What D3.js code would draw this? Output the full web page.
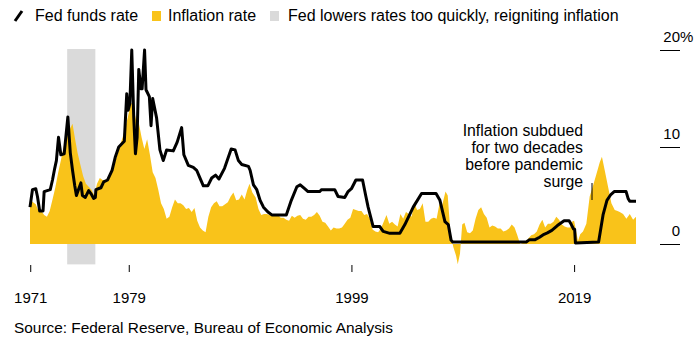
<!DOCTYPE html>
<html>
<head>
<meta charset="utf-8">
<script src="https://cdn.jsdelivr.net/npm/d3@7"></script>
<style>
  body { margin: 0; background: #fff; }
  svg text { font-family: "Liberation Sans", Arial, sans-serif; fill: #000; }
</style>
</head>
<body>
<div id="chart"></div>
<script>
// fed funds rate, (year, %) vertices
var fedYears = [
  1971.13, 1971.35, 1971.65, 1971.8, 1972.0, 1972.3, 1972.4, 1972.95, 1973.15, 1973.35,
  1973.5, 1973.69, 1973.9, 1974.2, 1974.53, 1974.75, 1974.95, 1975.15, 1975.3, 1975.48,
  1975.7, 1975.84, 1976.1, 1976.4, 1976.6, 1976.85, 1977.0, 1977.05, 1977.5, 1977.75,
  1978.1, 1978.5, 1978.8, 1979.1, 1979.6, 1979.82, 1979.95, 1980.1, 1980.27, 1980.45,
  1980.6, 1980.75, 1980.9, 1981.1, 1981.2, 1981.42, 1981.55, 1981.85, 1982.0, 1982.15,
  1982.5, 1982.8, 1983.1, 1983.4, 1984.0, 1984.35, 1984.75, 1984.95, 1985.35, 1985.8,
  1986.1, 1986.4, 1986.7, 1987.1, 1987.45, 1987.8, 1988.1, 1988.6, 1989.2, 1989.55,
  1989.85, 1990.15, 1990.75, 1990.9, 1991.2, 1991.5, 1991.8, 1992.1, 1992.5, 1992.85,
  1994.15, 1994.6, 1995.1, 1995.4, 1995.8, 1996.1, 1997.15, 1997.3, 1998.5, 1998.8,
  1999.4, 1999.7, 2000.0, 2000.4, 2001.0, 2001.3, 2001.5, 2001.95, 2002.55, 2002.85,
  2003.45, 2004.35, 2004.8, 2005.55, 2006.3, 2007.6, 2007.95, 2008.4, 2008.7, 2008.95,
  2009.1, 2015.7, 2016.0, 2016.5, 2016.9, 2017.3, 2017.6, 2018.0, 2018.5, 2019.1,
  2019.55, 2019.75, 2019.95, 2020.05, 2020.12, 2022.2, 2022.6, 2022.95, 2023.3, 2023.6,
  2024.67, 2024.85, 2025.0, 2025.56
];
var fedRates = [
  3.8, 5.6, 5.7, 4.9, 3.4, 3.4, 5.4, 5.6, 6.6, 7.8,
  8.6, 11.0, 9.2, 9.3, 13.1, 9.4, 7.6, 6.0, 5.0, 5.6,
  6.3, 5.0, 4.8, 5.5, 5.2, 4.7, 4.8, 5.6, 5.8, 6.4,
  6.6, 7.6, 9.0, 10.0, 10.6, 15.5, 13.8, 14.5, 20.0, 13.0,
  9.3, 11.0, 18.0, 16.0, 16.0, 20.0, 15.9, 15.2, 12.2, 15.0,
  13.0, 9.7, 8.6, 9.7, 9.6, 10.5, 12.0, 9.2, 8.1, 7.9,
  7.6, 6.8, 6.0, 6.0, 6.8, 7.1, 6.7, 7.8, 9.8, 9.7,
  8.6, 8.2, 8.0, 7.6, 6.1, 5.6, 4.5, 3.8, 3.3, 3.0,
  3.0, 4.5, 5.9, 6.1, 5.7, 5.4, 5.4, 5.6, 5.6, 4.9,
  4.8, 5.4, 5.7, 6.6, 6.6, 4.9, 3.8, 1.8, 1.8, 1.3,
  1.1, 1.1, 2.0, 3.8, 5.2, 5.2, 4.5, 2.3, 2.0, 0.4,
  0.2, 0.2, 0.45, 0.45, 0.7, 1.0, 1.15, 1.4, 1.9, 2.4,
  2.4, 2.0, 1.55, 1.5, 0.1, 0.2, 3.0, 4.5, 5.1, 5.4,
  5.4, 4.7, 4.4, 4.4
];

// inflation rate, (year, %)
var inflYears = [
  1971.13, 1971.4, 1971.65, 1971.9, 1972.15, 1972.4, 1972.65, 1972.9, 1973.15, 1973.4,
  1973.65, 1973.9, 1974.15, 1974.4, 1974.65, 1974.95, 1975.15, 1975.4, 1975.65, 1975.9,
  1976.15, 1976.4, 1976.65, 1976.9, 1977.15, 1977.4, 1977.65, 1977.9, 1978.15, 1978.4,
  1978.65, 1978.9, 1979.15, 1979.4, 1979.65, 1979.9, 1980.2, 1980.4, 1980.65, 1980.9,
  1981.15, 1981.4, 1981.65, 1981.9, 1982.15, 1982.4, 1982.65, 1982.9, 1983.15, 1983.4,
  1983.65, 1983.9, 1984.15, 1984.4, 1984.65, 1984.9, 1985.15, 1985.4, 1985.65, 1985.9,
  1986.15, 1986.4, 1986.65, 1986.9, 1987.15, 1987.4, 1987.65, 1987.9, 1988.15, 1988.4,
  1988.65, 1988.9, 1989.15, 1989.4, 1989.65, 1989.9, 1990.15, 1990.4, 1990.65, 1990.85,
  1991.1, 1991.4, 1991.65, 1991.9, 1992.15, 1992.4, 1992.65, 1992.9, 1993.15, 1993.4,
  1993.65, 1993.9, 1994.15, 1994.4, 1994.65, 1994.9, 1995.15, 1995.4, 1995.65, 1995.9,
  1996.15, 1996.4, 1996.65, 1996.9, 1997.15, 1997.4, 1997.65, 1997.9, 1998.15, 1998.4,
  1998.65, 1998.9, 1999.15, 1999.4, 1999.65, 1999.9, 2000.15, 2000.4, 2000.65, 2000.9,
  2001.15, 2001.4, 2001.65, 2001.9, 2002.15, 2002.4, 2002.65, 2002.9, 2003.15, 2003.4,
  2003.65, 2003.9, 2004.15, 2004.4, 2004.65, 2004.9, 2005.15, 2005.4, 2005.65, 2005.9,
  2006.15, 2006.4, 2006.65, 2006.9, 2007.15, 2007.4, 2007.65, 2007.9, 2008.15, 2008.45,
  2008.65, 2008.9, 2009.15, 2009.4, 2009.55, 2009.75, 2009.95, 2010.15, 2010.4, 2010.65,
  2010.9, 2011.15, 2011.4, 2011.65, 2011.9, 2012.15, 2012.4, 2012.65, 2012.9, 2013.15,
  2013.4, 2013.65, 2013.9, 2014.15, 2014.4, 2014.65, 2014.9, 2015.15, 2015.4, 2015.65,
  2015.9, 2016.15, 2016.4, 2016.65, 2016.9, 2017.15, 2017.4, 2017.65, 2017.9, 2018.15,
  2018.4, 2018.65, 2018.9, 2019.15, 2019.4, 2019.65, 2019.8, 2020.0, 2020.2, 2020.35,
  2020.55, 2020.8, 2021.1, 2021.4, 2021.7, 2022.0, 2022.3, 2022.5, 2022.75, 2023.05,
  2023.35, 2023.65, 2023.9, 2024.1, 2024.4, 2024.7, 2025.0, 2025.3, 2025.56
];
var inflRates = [
  4.6, 4.3, 4.1, 3.4, 3.4, 3.0, 2.8, 3.4, 4.6, 5.8,
  7.3, 8.6, 10.0, 10.9, 11.7, 12.4, 11.0, 9.4, 8.2, 7.0,
  6.2, 5.9, 5.6, 5.0, 6.2, 6.8, 6.6, 6.6, 6.5, 7.2,
  8.1, 8.9, 10.0, 10.8, 11.8, 13.0, 14.6, 14.2, 12.8, 12.5,
  11.0, 9.8, 10.8, 9.2, 7.4, 6.8, 5.6, 4.2, 3.6, 2.6,
  2.8, 3.8, 4.6, 4.2, 4.2, 4.0, 3.6, 3.7, 3.3, 3.7,
  2.4, 1.7, 1.4, 1.2, 2.8, 3.8, 4.2, 4.4, 3.9, 3.9,
  4.1, 4.3, 4.9, 5.3, 4.5, 4.6, 5.1, 4.6, 5.6, 6.2,
  5.3, 4.8, 3.6, 3.0, 3.1, 3.1, 3.0, 3.0, 3.1, 3.0,
  2.7, 2.7, 2.5, 2.4, 2.9, 2.7, 2.9, 3.0, 2.6, 2.5,
  2.8, 2.8, 3.0, 3.3, 2.9, 2.3, 2.2, 1.8, 1.4, 1.7,
  1.6, 1.6, 1.7, 2.1, 2.5, 2.7, 3.6, 3.5, 3.4, 3.4,
  3.0, 3.1, 2.6, 1.5, 1.3, 1.2, 1.6, 2.3, 3.0, 2.1,
  2.3, 2.0, 1.8, 3.1, 2.6, 3.3, 3.1, 2.8, 4.2, 3.5,
  3.6, 4.2, 2.3, 2.3, 2.6, 2.7, 2.6, 4.1, 4.0, 5.4,
  5.0, 1.0, -0.3, -1.2, -2.1, -1.0, 2.0, 2.2, 1.2, 1.1,
  1.4, 2.6, 3.5, 3.8, 3.1, 2.7, 1.7, 1.9, 1.8, 1.6,
  1.6, 1.3, 1.4, 1.6, 2.0, 1.7, 0.9, 0.0, 0.1, 0.1,
  0.6, 0.9, 1.0, 1.3, 2.0, 2.5, 1.7, 2.1, 2.1, 2.3,
  2.8, 2.5, 2.0, 1.8, 1.7, 1.7, 2.3, 2.4, 1.2, 0.3,
  1.0, 1.3, 2.1, 4.9, 6.0, 7.2, 8.4, 9.0, 7.6, 5.9,
  4.2, 3.5, 3.4, 3.3, 3.1, 2.6, 3.1, 2.5, 2.8
];

// shaded period
var bandYears = [1974.47, 1977.0];

// axes
var yTicks = [0, 10, 20];
var xTickYears = [1971.15, 1980, 2000, 2020];
var xTickLabels = ["1971", "1979", "1999", "2019"];

// texts
var legendLabels = ["Fed funds rate", "Inflation rate", "Fed lowers rates too quickly, reigniting inflation"];
var noteLines = ["Inflation subdued", "for two decades", "before pandemic", "surge"];
var sourceText = "Source: Federal Reserve, Bureau of Economic Analysis";

var fedData = fedYears.map(function(d, i) { return {year: d, value: fedRates[i]}; });
var inflData = inflYears.map(function(d, i) { return {year: d, value: inflRates[i]}; });

var width = 694;
var height = 345;

var colours = {
  fed: "#000000",
  infl: "#f9c31a",
  band: "#dadada"
};

var svg = d3.select("#chart")
            .append("svg")
              .attr("width", width)
              .attr("height", height);

svg.append("rect")
    .attr("width", width)
    .attr("height", height)
    .attr("fill", "#fff");

// scales
var xScale = d3.scaleLinear()
                .domain([1971.13, 2025.56])
                .range([30, 636]);

var yScale = d3.scaleLinear()
                .domain([0, 20])
                .range([244, 50]);

// shaded band
svg.append("rect")
    .attr("class", "band")
    .attr("x", xScale(bandYears[0]))
    .attr("y", yScale(20.1))
    .attr("width", xScale(bandYears[1]) - xScale(bandYears[0]))
    .attr("height", yScale(-2.1) - yScale(20.1))
    .attr("fill", colours.band);

// inflation area
var area = d3.area()
              .x(function(d) { return xScale(d.year); })
              .y0(yScale(0))
              .y1(function(d) { return yScale(d.value); });

svg.append("path")
    .datum(inflData)
    .attr("class", "inflation")
    .attr("fill", colours.infl)
    .attr("d", area);

// fed funds line
var line = d3.line()
              .x(function(d) { return xScale(d.year); })
              .y(function(d) { return yScale(d.value); });

svg.append("path")
    .datum(fedData)
    .attr("class", "fed")
    .attr("fill", "none")
    .attr("stroke", colours.fed)
    .attr("stroke-width", 3)
    .attr("stroke-linejoin", "round")
    .attr("d", line);

// x axis
var xAxis = d3.axisBottom(xScale)
              .tickValues(xTickYears)
              .tickFormat(function(d, i) { return xTickLabels[i]; })
              .tickSize(7)
              .tickPadding(20);

var gx = svg.append("g")
            .attr("class", "axis x-axis")
            .attr("transform", "translate(0,265)")
            .call(xAxis);

gx.select(".domain").remove();
gx.selectAll("line").attr("stroke", "#000");
gx.selectAll("text")
    .attr("font-size", 15)
    .attr("font-family", null);

// y axis on the right, labels sit above short tick lines
var yAxis = d3.axisLeft(yScale)
              .tickValues(yTicks)
              .tickSize(20)
              .tickFormat(function(d) { return d; });

var gy = svg.append("g")
            .attr("class", "axis y-axis")
            .attr("transform", "translate(680,0)")
            .call(yAxis);

gy.select(".domain").remove();
gy.selectAll("line").attr("stroke", "#000");
gy.selectAll("text")
    .attr("x", 0)
    .attr("dy", -9)
    .attr("font-size", 15)
    .attr("font-family", null);

gy.selectAll(".tick")
    .filter(function(d) { return d === d3.max(yTicks); })
  .append("text")
    .attr("x", 0)
    .attr("dy", -9)
    .attr("text-anchor", "start")
    .attr("font-size", 15)
    .text("%");

// legend
var legend = svg.append("g").attr("class", "legend");

legend.append("line")
    .attr("x1", 15)
    .attr("y1", 21)
    .attr("x2", 22)
    .attr("y2", 11)
    .attr("stroke", colours.fed)
    .attr("stroke-width", 3);

legend.append("text")
    .attr("x", 35)
    .attr("y", 21)
    .attr("font-size", 16)
    .text(legendLabels[0]);

legend.append("rect")
    .attr("x", 152)
    .attr("y", 11)
    .attr("width", 9)
    .attr("height", 10)
    .attr("fill", colours.infl);

legend.append("text")
    .attr("x", 168)
    .attr("y", 21)
    .attr("font-size", 16)
    .text(legendLabels[1]);

legend.append("rect")
    .attr("x", 270)
    .attr("y", 11)
    .attr("width", 9)
    .attr("height", 10)
    .attr("fill", colours.band);

legend.append("text")
    .attr("x", 288)
    .attr("y", 21)
    .attr("font-size", 16)
    .text(legendLabels[2]);

// annotation
var note = svg.append("g").attr("class", "note");

note.selectAll("text")
    .data(noteLines)
    .enter()
  .append("text")
    .attr("x", 583)
    .attr("y", function(d, i) { return 135.5 + i * 17.2; })
    .attr("text-anchor", "end")
    .attr("font-size", 15.8)
    .text(function(d) { return d; });

note.append("line")
    .attr("x1", 592)
    .attr("y1", 183)
    .attr("x2", 592)
    .attr("y2", 200)
    .attr("stroke", "#000")
    .attr("stroke-width", 1);

// source
svg.append("text")
    .attr("x", 14)
    .attr("y", 333)
    .attr("font-size", 15.4)
    .text(sourceText);
</script>
</body>
</html>
